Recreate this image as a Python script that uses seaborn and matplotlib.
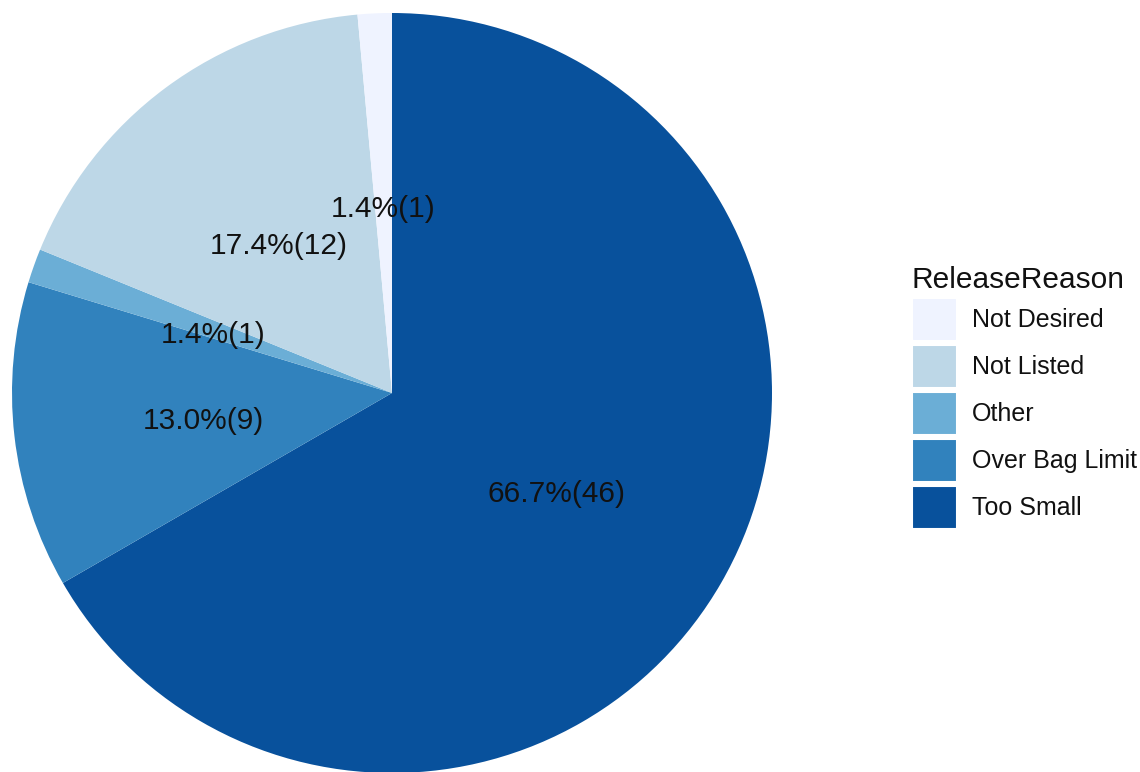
import matplotlib
matplotlib.use("Agg")
import matplotlib.pyplot as plt
import matplotlib.patches as mpatches
import seaborn as sns

# legend order (factor levels)
REASONS = ["Not Desired", "Not Listed", "Other", "Over Bag Limit", "Too Small"]
COUNTS = [1, 12, 1, 9, 46]
COLORS = ["#eff3ff", "#bdd7e7", "#6baed6", "#3182bd", "#08519c"]

sns.set_theme(style="white")
plt.rcParams["font.family"] = ["Liberation Sans", "DejaVu Sans"]

palette = sns.color_palette(COLORS)
total = sum(COUNTS)

# ggplot stacks the last level first, clockwise from 12 o'clock
order = list(range(len(REASONS)))[::-1]
vals = [COUNTS[i] for i in order]
cols = [palette[i] for i in order]

fig = plt.figure(figsize=(11.4, 7.72), dpi=100)
ax = fig.add_axes([12 / 1140, -1 / 772, 760 / 1140, 760 / 772])


def fmt(pct):
    n = int(round(pct * total / 100))
    return f"{pct:.1f}%({n})"


wedges, _, autotexts = ax.pie(vals, colors=cols, startangle=90, counterclock=False,
                              radius=1, autopct=fmt, pctdistance=0.5,
                              wedgeprops=dict(linewidth=0),
                              textprops=dict(fontsize=21.5, color="#111111"))
for t in autotexts:
    t.set_va("center_baseline")
    x, y = t.get_position()
    t.set_position((x, y - 0.008))
ax.set_xlim(-1, 1)
ax.set_ylim(-1, 1)
ax.set_aspect("equal")
ax.axis("off")

handles = [mpatches.Patch(facecolor=palette[i], edgecolor="white", linewidth=1.5,
                          label=REASONS[i]) for i in range(len(REASONS))]
leg = fig.legend(handles=handles, title="ReleaseReason", loc="upper left",
                 bbox_to_anchor=(912 / 1140, 1 - 266 / 772), frameon=False,
                 fontsize=18, title_fontsize=21.5, handlelength=1.8, handleheight=2.3,
                 labelspacing=0.14, handletextpad=0.6, borderpad=0, borderaxespad=0,
                 alignment="left")
leg._legend_handle_box.sep = 10
for t in leg.get_texts():
    t.set_color("#111111")
leg.get_title().set_color("#111111")

fig.savefig("out.png", dpi=100)
